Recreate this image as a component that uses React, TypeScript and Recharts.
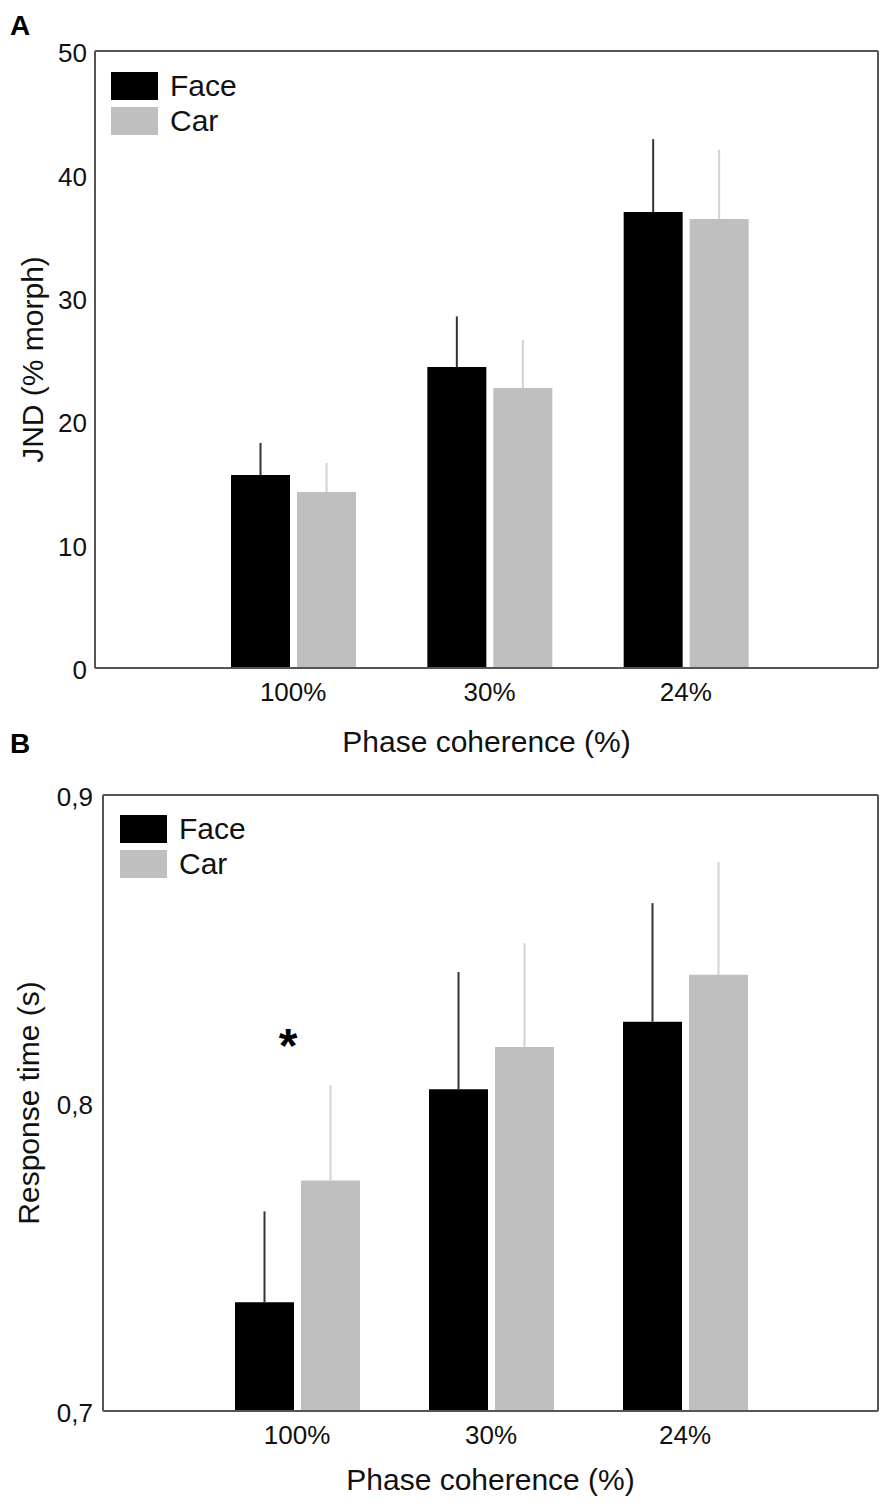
import React from "react";
import { BarChart, Bar, XAxis, YAxis, ErrorBar, Legend, ReferenceDot, CartesianGrid } from "recharts";

// categories shared by both panels
const categories = ["100%", "30%", "24%"];

// panel A: JND (% morph)
const jndFace = [15.64, 24.39, 36.95];
const jndFaceErr = [2.6, 4.1, 5.9];
const jndCar = [14.26, 22.69, 36.39];
const jndCarErr = [2.35, 3.9, 5.6];
const jndTicks = [0, 10, 20, 30, 40, 50];

// panel B: response time (s)
const rtFace = [0.7353, 0.8045, 0.8264];
const rtFaceErr = [0.0295, 0.038, 0.0385];
const rtCar = [0.7748, 0.8182, 0.8416];
const rtCarErr = [0.031, 0.0337, 0.0366];
const rtTicks = [0.7, 0.8, 0.9];

// significance marks on panel B
const rtMarks = [{ cat: "100%", y: 0.819, text: "*" }];

const seriesOrder = ["face", "car"];

const FONT = '"Liberation Sans", Arial, Helvetica, sans-serif';
const FRAME = "#555";
const FACE = "#000";
const CAR = "#bfbfbf";

const toRows = (face: number[], faceErr: number[], car: number[], carErr: number[]) =>
  categories.map((cat, i) => ({
    cat,
    face: face[i],
    faceErr: [0, faceErr[i]],
    car: car[i],
    carErr: [0, carErr[i]],
  }));

const jndRows = toRows(jndFace, jndFaceErr, jndCar, jndCarErr);
const rtRows = toRows(rtFace, rtFaceErr, rtCar, rtCarErr);

const renderLegend = (props: any) => {
  const items = [...(props.payload || [])].sort(
    (a: any, b: any) => seriesOrder.indexOf(a.dataKey) - seriesOrder.indexOf(b.dataKey)
  );
  return (
    <div style={{ fontFamily: FONT }}>
      {items.map((entry: any) => (
        <div key={entry.value} style={{ display: "flex", alignItems: "center", height: 35 }}>
          <span style={{ display: "inline-block", width: 47, height: 28, background: entry.color, marginRight: 12 }} />
          <span style={{ fontSize: 30, color: "#111" }}>{entry.value}</span>
        </div>
      ))}
    </div>
  );
};

// frame: lines at the plot edges
const frameH = ({ offset }: any) => [offset.top, offset.top + offset.height];
const frameV = ({ offset }: any) => [offset.left, offset.left + offset.width];

type PanelProps = {
  rows: any[];
  height: number;
  top: number;
  yWidth: number;
  xHeight: number;
  domain: [number, number];
  ticks: number[];
  fmt: (v: number) => string;
  yTitle: string;
  yTitleDx: number;
  xTitleOffset: number;
  pad: { left: number; right: number };
  legendPos: { left: number; top: number };
  yTickMargin: number;
  marks?: { cat: string; y: number; text: string }[];
};

function Panel(p: PanelProps) {
  return (
    <BarChart
      width={892}
      height={p.height}
      data={p.rows}
      margin={{ top: p.top, right: 14, bottom: 0, left: 0 }}
      barSize={59}
      barGap={7}
      style={{ fontFamily: FONT }}
    >
      <CartesianGrid
        stroke={FRAME}
        strokeWidth={2}
        horizontalCoordinatesGenerator={frameH}
        verticalCoordinatesGenerator={frameV}
      />
      <XAxis
        dataKey="cat"
        height={p.xHeight}
        padding={p.pad}
        tickLine={false}
        tickMargin={9}
        axisLine={{ stroke: FRAME, strokeWidth: 2 }}
        tick={{ fill: "#111", fontSize: 26 }}
        label={{ value: "Phase coherence (%)", position: "insideBottom", offset: p.xTitleOffset, fontSize: 30, fill: "#111" }}
      />
      <YAxis
        width={p.yWidth}
        domain={p.domain}
        ticks={p.ticks}
        allowDataOverflow
        tickFormatter={p.fmt}
        tickLine={false}
        tickMargin={p.yTickMargin}
        axisLine={{ stroke: FRAME, strokeWidth: 2 }}
        tick={{ fill: "#111", fontSize: 26, dy: 2 }}
        label={{ value: p.yTitle, angle: -90, position: "center", dx: p.yTitleDx, fontSize: 30, fill: "#111" }}
      />
      <Legend
        layout="vertical"
        align="center"
        verticalAlign="middle"
        content={renderLegend}
        wrapperStyle={{ left: p.legendPos.left, top: p.legendPos.top, width: "auto" }}
      />
      <Bar dataKey="face" name="Face" fill={FACE} isAnimationActive={false}>
        <ErrorBar dataKey="faceErr" width={0} stroke="#333" strokeWidth={2} direction="y" />
      </Bar>
      <Bar dataKey="car" name="Car" fill={CAR} isAnimationActive={false}>
        <ErrorBar dataKey="carErr" width={0} stroke="#d2d2d2" strokeWidth={2} direction="y" />
      </Bar>
      {(p.marks || []).map((m) => (
        <ReferenceDot
          key={m.cat}
          x={m.cat}
          y={m.y}
          r={1}
          fill="none"
          stroke="none"
          label={{ value: m.text, position: "center", dx: -9, fontSize: 48, fontWeight: "bold", fill: "#000" }}
        />
      ))}
    </BarChart>
  );
}

export default function App() {
  const letter: React.CSSProperties = {
    position: "absolute",
    left: 10,
    fontFamily: FONT,
    fontWeight: "bold",
    fontSize: 28,
    lineHeight: "normal",
    color: "#000",
  };
  return (
    <div style={{ position: "absolute", top: 0, left: 0, width: 892, height: 1508, background: "#fff", fontFamily: FONT }}>
      <div style={{ position: "absolute", top: 0, left: 0 }}>
        <Panel
          rows={jndRows}
          height={760}
          top={51}
          yWidth={95}
          xHeight={92}
          domain={[0, 50]}
          ticks={jndTicks}
          fmt={(v) => String(v)}
          yTitle="JND (% morph)"
          yTitleDx={-15}
          xTitleOffset={8}
          pad={{ left: 100, right: 94 }}
          legendPos={{ left: 111, top: 68.5 }}
          yTickMargin={2}
        />
      </div>
      <div style={{ position: "absolute", top: 760, left: 0 }}>
        <Panel
          rows={rtRows}
          height={748}
          top={35}
          yWidth={103}
          xHeight={97}
          domain={[0.7, 0.9]}
          ticks={rtTicks}
          fmt={(v) => v.toFixed(1).replace(".", ",")}
          yTitle="Response time (s)"
          yTitleDx={-23.5}
          xTitleOffset={18}
          pad={{ left: 97, right: 96 }}
          legendPos={{ left: 120, top: 51.5 }}
          yTickMargin={4}
          marks={rtMarks}
        />
      </div>
      <div style={{ ...letter, top: 10 }}>A</div>
      <div style={{ ...letter, top: 728 }}>B</div>
    </div>
  );
}
